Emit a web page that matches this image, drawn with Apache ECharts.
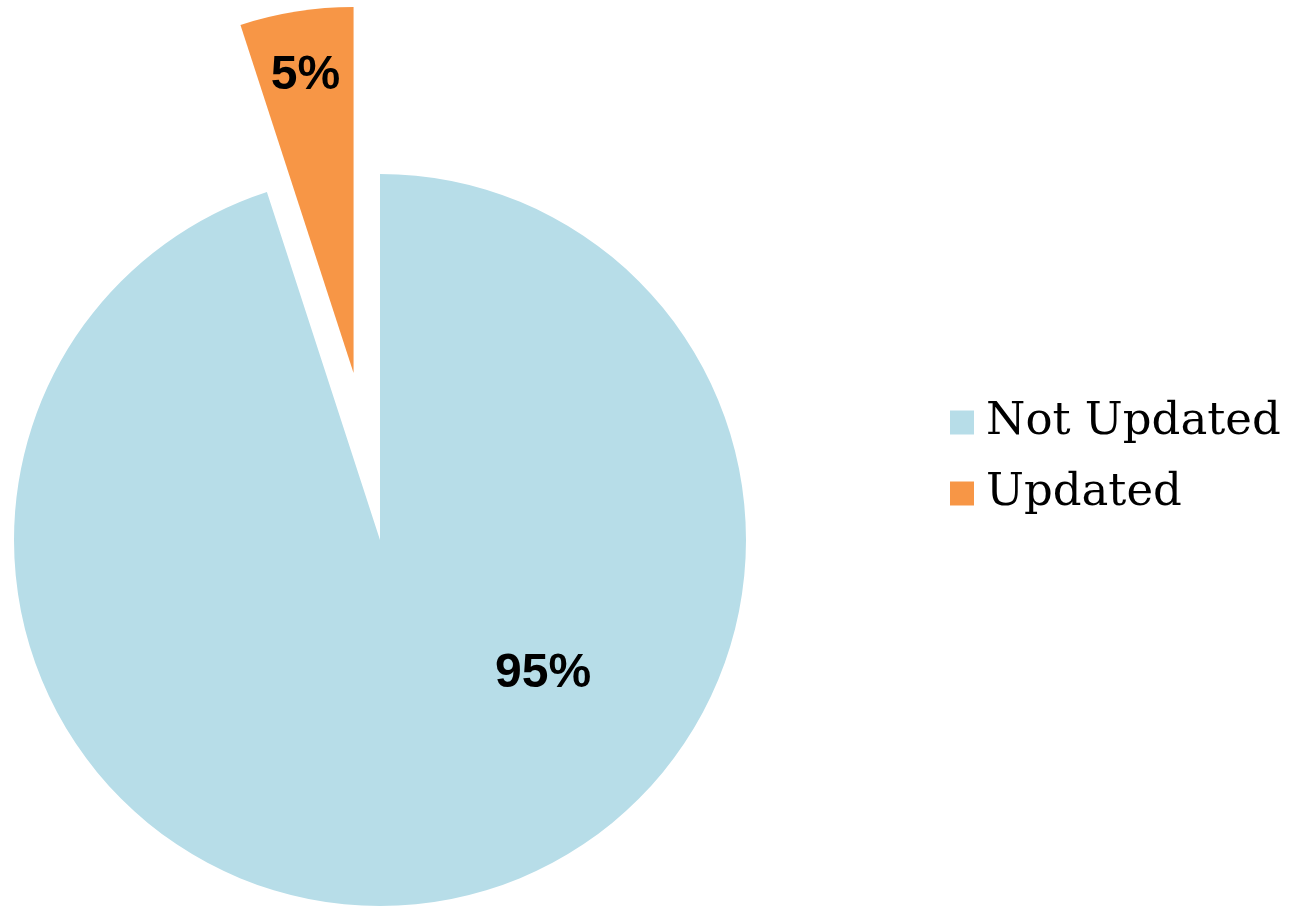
<!DOCTYPE html>
<html><head><meta charset="utf-8">
<script src="https://cdn.jsdelivr.net/npm/echarts@6/dist/echarts.min.js"></script>
<style>html,body{margin:0;padding:0;background:#fff}#c{width:1289px;height:906px}</style>
</head><body><div id="c"></div>
<script>
var categories = ['Not Updated', 'Updated'];
var values = [95, 5];
var colors = ['#B7DDE8', '#F79646'];
var labelShift = [[134, -50], [-19, -114]];

var chart = echarts.init(document.getElementById('c'), null, {renderer: 'canvas'});
chart.setOption({
  animation: false,
  legend: {
    orient: 'vertical',
    left: 945,
    top: 395,
    itemWidth: 24,
    itemHeight: 24,
    itemGap: 26,
    icon: 'rect',
    selectedMode: false,
    textStyle: {fontFamily: 'DejaVu Serif', fontSize: 45, color: '#000', padding: [0, 0, 0, 7]}
  },
  series: [{
    type: 'pie',
    center: [380, 540],
    radius: 366,
    startAngle: 90,
    clockwise: true,
    selectedMode: 'single',
    selectedOffset: 169,
    avoidLabelOverlap: false,
    label: {
      show: true,
      position: 'inside',
      formatter: '{d}%',
      fontFamily: 'Liberation Sans',
      fontWeight: 'bold',
      fontSize: 48,
      color: '#000'
    },
    labelLine: {show: false},
    emphasis: {disabled: true},
    labelLayout: function (p) {
      var s = labelShift[p.dataIndex];
      return {dx: s[0], dy: s[1]};
    },
    data: categories.map(function (c, i) {
      return {name: c, value: values[i], selected: i === 1, itemStyle: {color: colors[i]}};
    })
  }]
});
</script></body></html>
